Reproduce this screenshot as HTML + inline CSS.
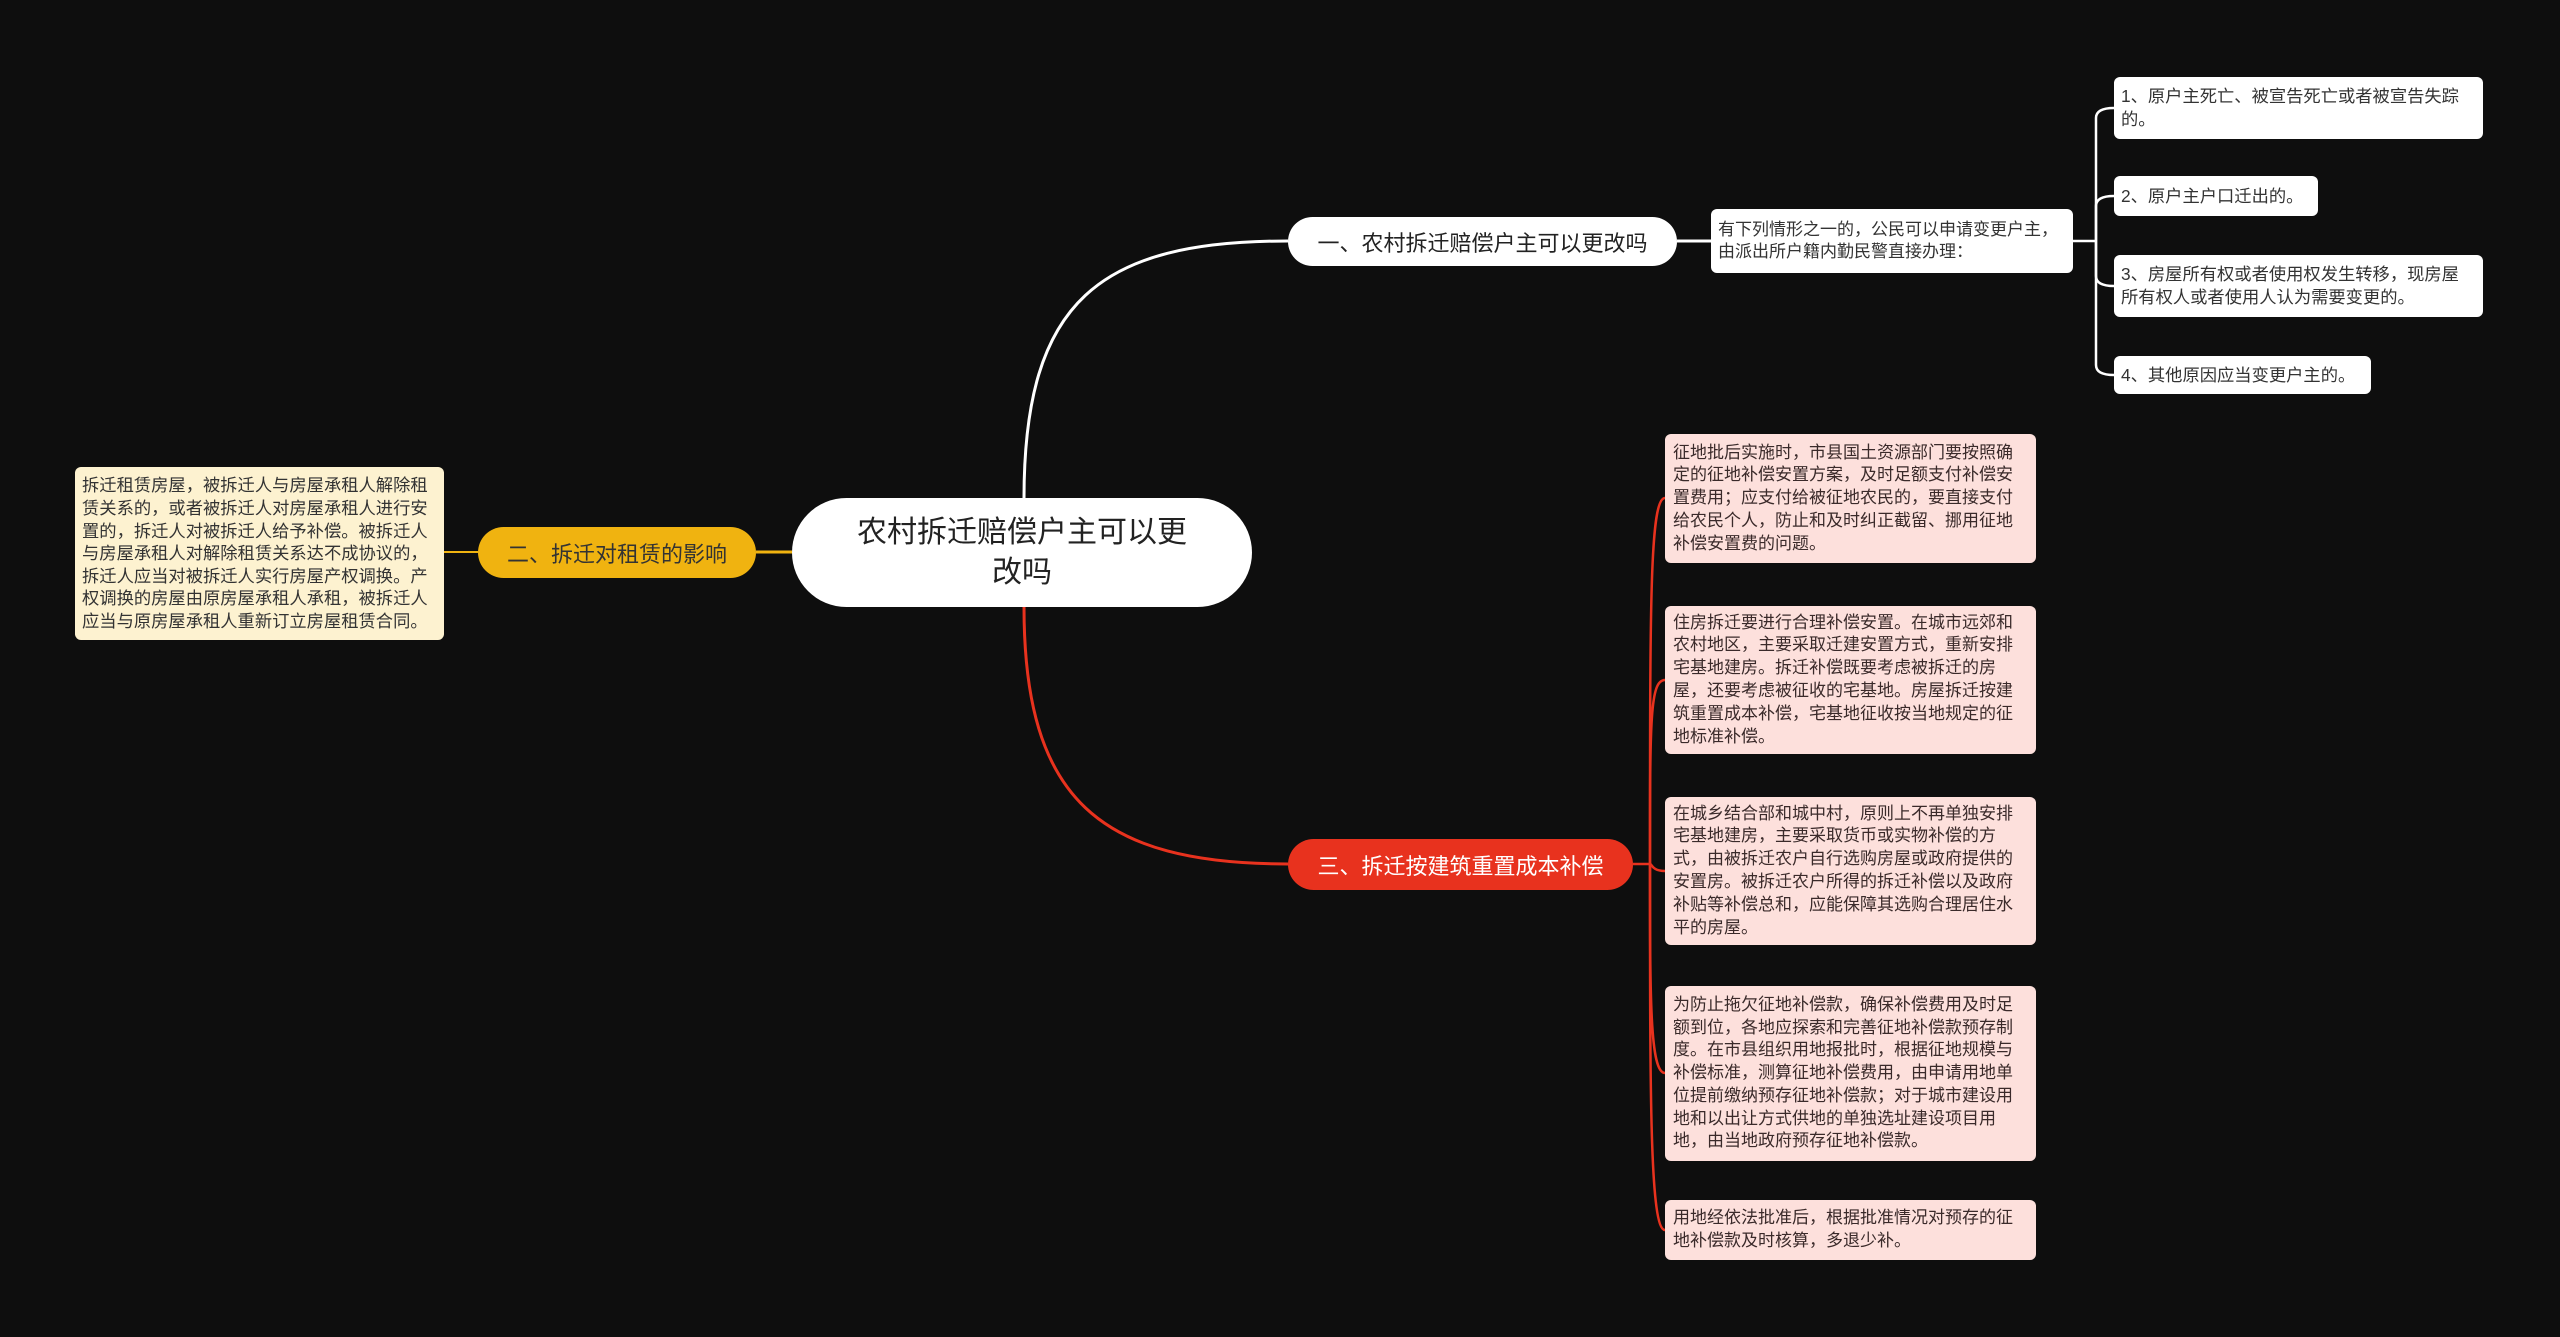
<!DOCTYPE html>
<html><head><meta charset="utf-8"><style>
body{margin:0;width:2560px;height:1337px;background:#0e0e0e;position:relative;overflow:hidden;font-family:"Liberation Sans","Noto Sans CJK SC",sans-serif;}
.n{position:absolute;box-sizing:border-box;display:flex;align-items:center;}
.item{background:#fff;border-radius:6px;font-size:17.3px;line-height:23px;padding:0 7px;color:#333;}
.red{background:#fde0dc;border-radius:6px;font-size:17px;line-height:22.8px;padding:0 14px 0 8px;color:#3a2a2a;}
.nw{white-space:nowrap;}
svg{position:absolute;left:0;top:0;}
</style></head><body>
<svg width="2560" height="1337" fill="none">
<path d="M1024 498 C1024 300 1100 241 1288 241" stroke="#fff" stroke-width="3"/>
<path d="M1024 607 C1024 800 1100 864 1288 864" stroke="#e8321e" stroke-width="3"/>
<path d="M792 552 L756 552" stroke="#f0b310" stroke-width="3"/>
<path d="M444 552 L478 552" stroke="#f0b310" stroke-width="2"/>
<path d="M1677 241 L1711 241" stroke="#fff" stroke-width="3"/>
<g stroke="#fff" stroke-width="2.5">
<path d="M2073 241 L2096 241"/>
<path d="M2096 241 L2096 118 Q2096 108 2114 108"/>
<path d="M2096 241 L2096 206 Q2096 196 2114 196"/>
<path d="M2096 241 L2096 276 Q2096 286 2114 286"/>
<path d="M2096 241 L2096 365 Q2096 375 2114 375"/>
</g>
<g stroke="#e8321e" stroke-width="2.5">
<path d="M1633 864 L1650 864"/>
<path d="M1650 864 C1650 600 1650 498 1665 498"/>
<path d="M1650 864 C1650 720 1650 680 1665 680"/>
<path d="M1650 864 C1652 864 1652 871 1665 871"/>
<path d="M1650 864 C1650 1000 1650 1073 1665 1073"/>
<path d="M1650 864 C1650 1100 1650 1230 1665 1230"/>
</g>
</svg>
<div class="n" style="left:792px;top:498px;width:460px;height:109px;background:#fff;border-radius:55px;justify-content:center;text-align:center;font-size:30px;line-height:40px;color:#222;padding:0 62px;">农村拆迁赔偿户主可以更改吗</div>
<div class="n nw" style="left:1288px;top:217px;width:389px;height:49px;background:#fff;border-radius:25px;justify-content:center;font-size:22px;color:#222;">一、农村拆迁赔偿户主可以更改吗</div>
<div class="n" style="left:1711px;top:209px;width:362px;height:64px;background:#fff;border-radius:6px;font-size:17px;line-height:22px;padding:0 7px;color:#333;">有下列情形之一的，公民可以申请变更户主，由派出所户籍内勤民警直接办理：</div>
<div class="n item" style="left:2114px;top:77px;width:369px;height:62px;">1、原户主死亡、被宣告死亡或者被宣告失踪的。</div>
<div class="n item nw" style="left:2114px;top:176px;width:204px;height:40px;">2、原户主户口迁出的。</div>
<div class="n item" style="left:2114px;top:255px;width:369px;height:62px;">3、房屋所有权或者使用权发生转移，现房屋所有权人或者使用人认为需要变更的。</div>
<div class="n item nw" style="left:2114px;top:356px;width:257px;height:38px;">4、其他原因应当变更户主的。</div>
<div class="n nw" style="left:478px;top:527px;width:278px;height:51px;background:#f0b310;border-radius:26px;justify-content:center;font-size:22px;color:#333;">二、拆迁对租赁的影响</div>
<div class="n" style="left:75px;top:467px;width:369px;height:173px;background:#fdf2d0;border-radius:6px;font-size:17.3px;line-height:22.6px;padding:0 7px;color:#333;">拆迁租赁房屋，被拆迁人与房屋承租人解除租赁关系的，或者被拆迁人对房屋承租人进行安置的，拆迁人对被拆迁人给予补偿。被拆迁人与房屋承租人对解除租赁关系达不成协议的，拆迁人应当对被拆迁人实行房屋产权调换。产权调换的房屋由原房屋承租人承租，被拆迁人应当与原房屋承租人重新订立房屋租赁合同。</div>
<div class="n nw" style="left:1288px;top:839px;width:345px;height:51px;background:#e8321e;border-radius:26px;justify-content:center;font-size:22px;color:#fff;">三、拆迁按建筑重置成本补偿</div>
<div class="n red" style="left:1665px;top:434px;width:371px;height:129px;">征地批后实施时，市县国土资源部门要按照确定的征地补偿安置方案，及时足额支付补偿安置费用；应支付给被征地农民的，要直接支付给农民个人，防止和及时纠正截留、挪用征地补偿安置费的问题。</div>
<div class="n red" style="left:1665px;top:606px;width:371px;height:148px;">住房拆迁要进行合理补偿安置。在城市远郊和农村地区，主要采取迁建安置方式，重新安排宅基地建房。拆迁补偿既要考虑被拆迁的房屋，还要考虑被征收的宅基地。房屋拆迁按建筑重置成本补偿，宅基地征收按当地规定的征地标准补偿。</div>
<div class="n red" style="left:1665px;top:797px;width:371px;height:148px;">在城乡结合部和城中村，原则上不再单独安排宅基地建房，主要采取货币或实物补偿的方式，由被拆迁农户自行选购房屋或政府提供的安置房。被拆迁农户所得的拆迁补偿以及政府补贴等补偿总和，应能保障其选购合理居住水平的房屋。</div>
<div class="n red" style="left:1665px;top:986px;width:371px;height:175px;">为防止拖欠征地补偿款，确保补偿费用及时足额到位，各地应探索和完善征地补偿款预存制度。在市县组织用地报批时，根据征地规模与补偿标准，测算征地补偿费用，由申请用地单位提前缴纳预存征地补偿款；对于城市建设用地和以出让方式供地的单独选址建设项目用地，由当地政府预存征地补偿款。</div>
<div class="n red" style="left:1665px;top:1200px;width:371px;height:60px;">用地经依法批准后，根据批准情况对预存的征地补偿款及时核算，多退少补。</div>
</body></html>
